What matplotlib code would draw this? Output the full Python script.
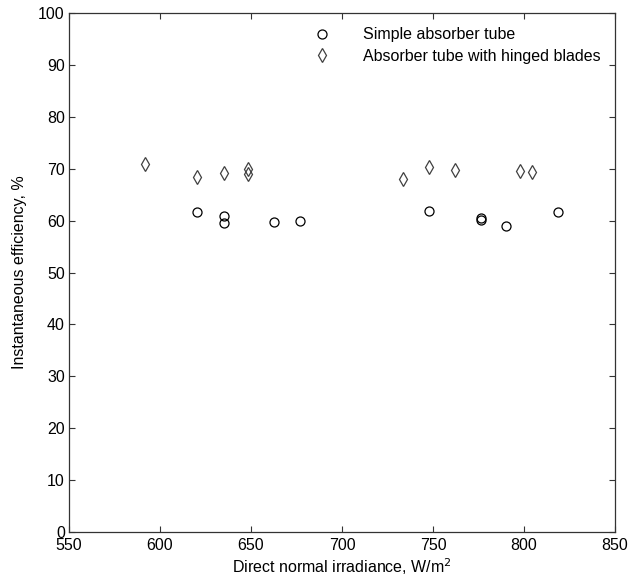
import numpy as np
from matplotlib import pyplot as plt

plt.rcParams['font.family'] = ['Liberation Sans', 'DejaVu Sans']

# simple absorber tube
simple_x = [620.5, 635, 635, 662.6, 677, 748, 776.2, 776.2, 790, 818.5]
simple_y = [61.7, 60.8, 59.6, 59.7, 59.9, 61.8, 60.5, 60.1, 59.0, 61.6]

# absorber tube with hinged blades
hinged_x = [591.8, 620.5, 635, 648.5, 648.5, 733.7, 748, 762, 797.8, 804.6]
hinged_y = [70.9, 68.5, 69.1, 69.9, 69.0, 68.0, 70.3, 69.8, 69.6, 69.4]

x_ticks = [550, 600, 650, 700, 750, 800, 850]
y_ticks = [0, 10, 20, 30, 40, 50, 60, 70, 80, 90, 100]


def main():
    fig = plt.figure(figsize=(6.31, 5.84), dpi=100)
    ax = fig.add_axes([0.1094, 0.089, 0.8652, 0.8887])

    ax.plot(simple_x, simple_y, 'o', mfc='none', mec='black', ms=6.5, mew=0.9,
            label='Simple absorber tube')
    ax.plot(hinged_x, hinged_y, 'd', mfc='none', mec='#404040', ms=7, mew=0.9,
            label='Absorber tube with hinged blades')

    ax.set_xlim(550, 850)
    ax.set_ylim(0, 100)
    ax.set_xticks(x_ticks)
    ax.set_yticks(y_ticks)
    ax.tick_params(direction='in', top=True, right=True, labelsize=11.5,
                   length=4, width=0.8, color='#333333', pad=3)
    ax.tick_params(axis='x', pad=4)
    for s in ax.spines.values():
        s.set_linewidth(0.9)
        s.set_color('#333333')

    ax.set_xlabel('Direct normal irradiance, W/m$^2$', fontsize=11.5, labelpad=3)
    ax.set_ylabel('Instantaneous efficiency, %', fontsize=11.5, labelpad=8)

    ax.legend(loc='upper right', frameon=False, fontsize=11.5, handletextpad=1.8,
              bbox_to_anchor=(0.985, 0.985), borderaxespad=0, labelspacing=0.4,
              handlelength=1.5)

    fig.savefig('out.png', dpi=100)


if __name__ == "__main__":
    main()
